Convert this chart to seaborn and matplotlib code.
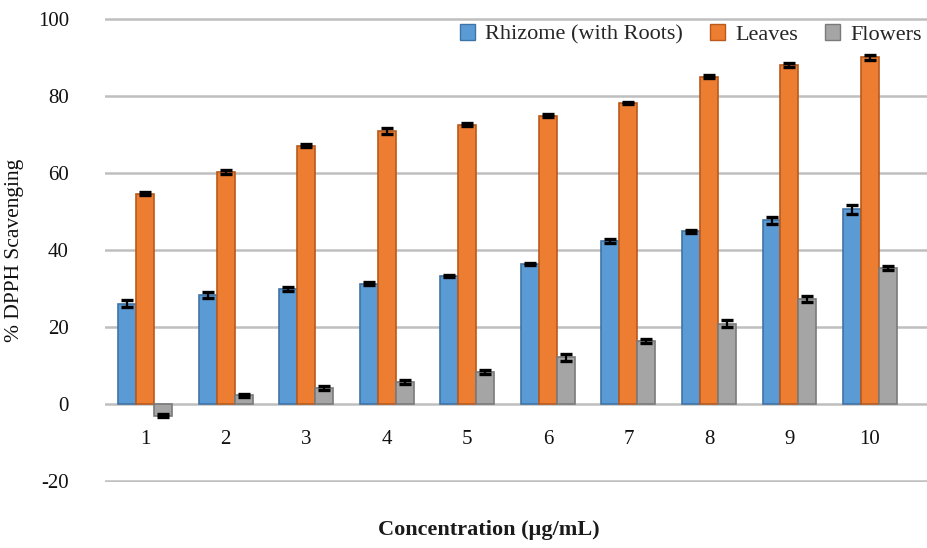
import numpy as np
import pandas as pd
import matplotlib
matplotlib.use("Agg")
import matplotlib.pyplot as plt
import seaborn as sns

# DPPH radical scavenging by plant part and concentration
concentrations = ["1", "2", "3", "4", "5", "6", "7", "8", "9", "10"]
series_names = ["Rhizome (with Roots)", "Leaves", "Flowers"]
rhizome = [26.0, 28.3, 29.8, 31.2, 33.3, 36.3, 42.3, 44.8, 47.7, 50.5]
leaves = [54.6, 60.2, 67.1, 70.8, 72.5, 74.8, 78.2, 85.0, 88.0, 90.0]
flowers = [-3.0, 2.2, 4.2, 5.8, 8.3, 12.1, 16.4, 20.8, 27.2, 35.3]
rhizome_err = [0.9, 0.8, 0.5, 0.4, 0.3, 0.3, 0.6, 0.4, 0.9, 1.1]
leaves_err = [0.4, 0.6, 0.4, 0.8, 0.4, 0.4, 0.3, 0.4, 0.4, 0.6]
flowers_err = [0.5, 0.5, 0.5, 0.5, 0.4, 0.9, 0.5, 0.9, 0.8, 0.6]
y_ticks = [-20, 0, 20, 40, 60, 80, 100]

values = [rhizome, leaves, flowers]
errors = [rhizome_err, leaves_err, flowers_err]
df = pd.DataFrame({
    "Concentration": concentrations * 3,
    "Series": np.repeat(series_names, len(concentrations)),
    "Value": np.concatenate(values),
})

fills = ["#5B9BD5", "#ED7D31", "#A5A5A5"]
edges = ["#3F74A6", "#B85A1C", "#7A7A7A"]

sns.set_theme(style="white")
plt.rcParams["font.family"] = ["Liberation Serif", "DejaVu Serif"]
plt.rcParams["axes.unicode_minus"] = False

fig = plt.figure(figsize=(9.28, 5.48), dpi=100)
ax = fig.add_axes([105 / 928, 0.1202, 1 - 105 / 928, 0.8476])

sns.barplot(data=df, x="Concentration", y="Value", hue="Series",
            order=concentrations, hue_order=series_names,
            palette=fills, errorbar=None, width=0.67, gap=0,
            saturation=1, ax=ax, zorder=3)

for cont, edge, vals, errs in zip(ax.containers, edges, values, errors):
    xs = []
    for bar in cont:
        bar.set_edgecolor(edge)
        bar.set_linewidth(1.2)
        xs.append(bar.get_x() + bar.get_width() / 2)
    ax.errorbar(xs, vals, yerr=errs, fmt="none", ecolor="black",
                elinewidth=1.6, capsize=4.5, capthick=2.4, zorder=4)

ax.set_ylim(-20.3, 100.3)
ax.set_xlim(-0.5, 9.72)
ax.set_yticks(y_ticks)
ax.yaxis.grid(True, color="#BFBFBF", linewidth=1.8, zorder=0)
ax.set_axisbelow(True)
for s in ax.spines.values():
    s.set_visible(False)

# category labels sit just under the zero line
ax.spines["bottom"].set_position(("data", 0))
ax.tick_params(axis="x", length=0, pad=19, labelsize=15, colors="#111111")
ax.tick_params(axis="y", length=0, pad=26, labelsize=15, colors="#111111")

ax.set_xlabel("")
ax.set_ylabel("% DPPH Scavenging", fontsize=15.5, color="#111111", labelpad=10)
fig.text(0.527, 0.032, "Concentration (µg/mL)", fontsize=16, fontweight="bold",
         color="#1a1a1a", ha="center", va="center")

handles, labels = ax.get_legend_handles_labels()
ax.legend_.remove()
leg = fig.legend(handles, labels, loc="upper right", ncol=3,
                 bbox_to_anchor=(1.003, 0.972), frameon=False,
                 fontsize=16, handlelength=0.7, handleheight=0.7,
                 handletextpad=0.45, columnspacing=1.2, borderaxespad=0)
for h, edge in zip(leg.legend_handles, edges):
    h.set_edgecolor(edge)

fig.savefig("out.png", dpi=100)
